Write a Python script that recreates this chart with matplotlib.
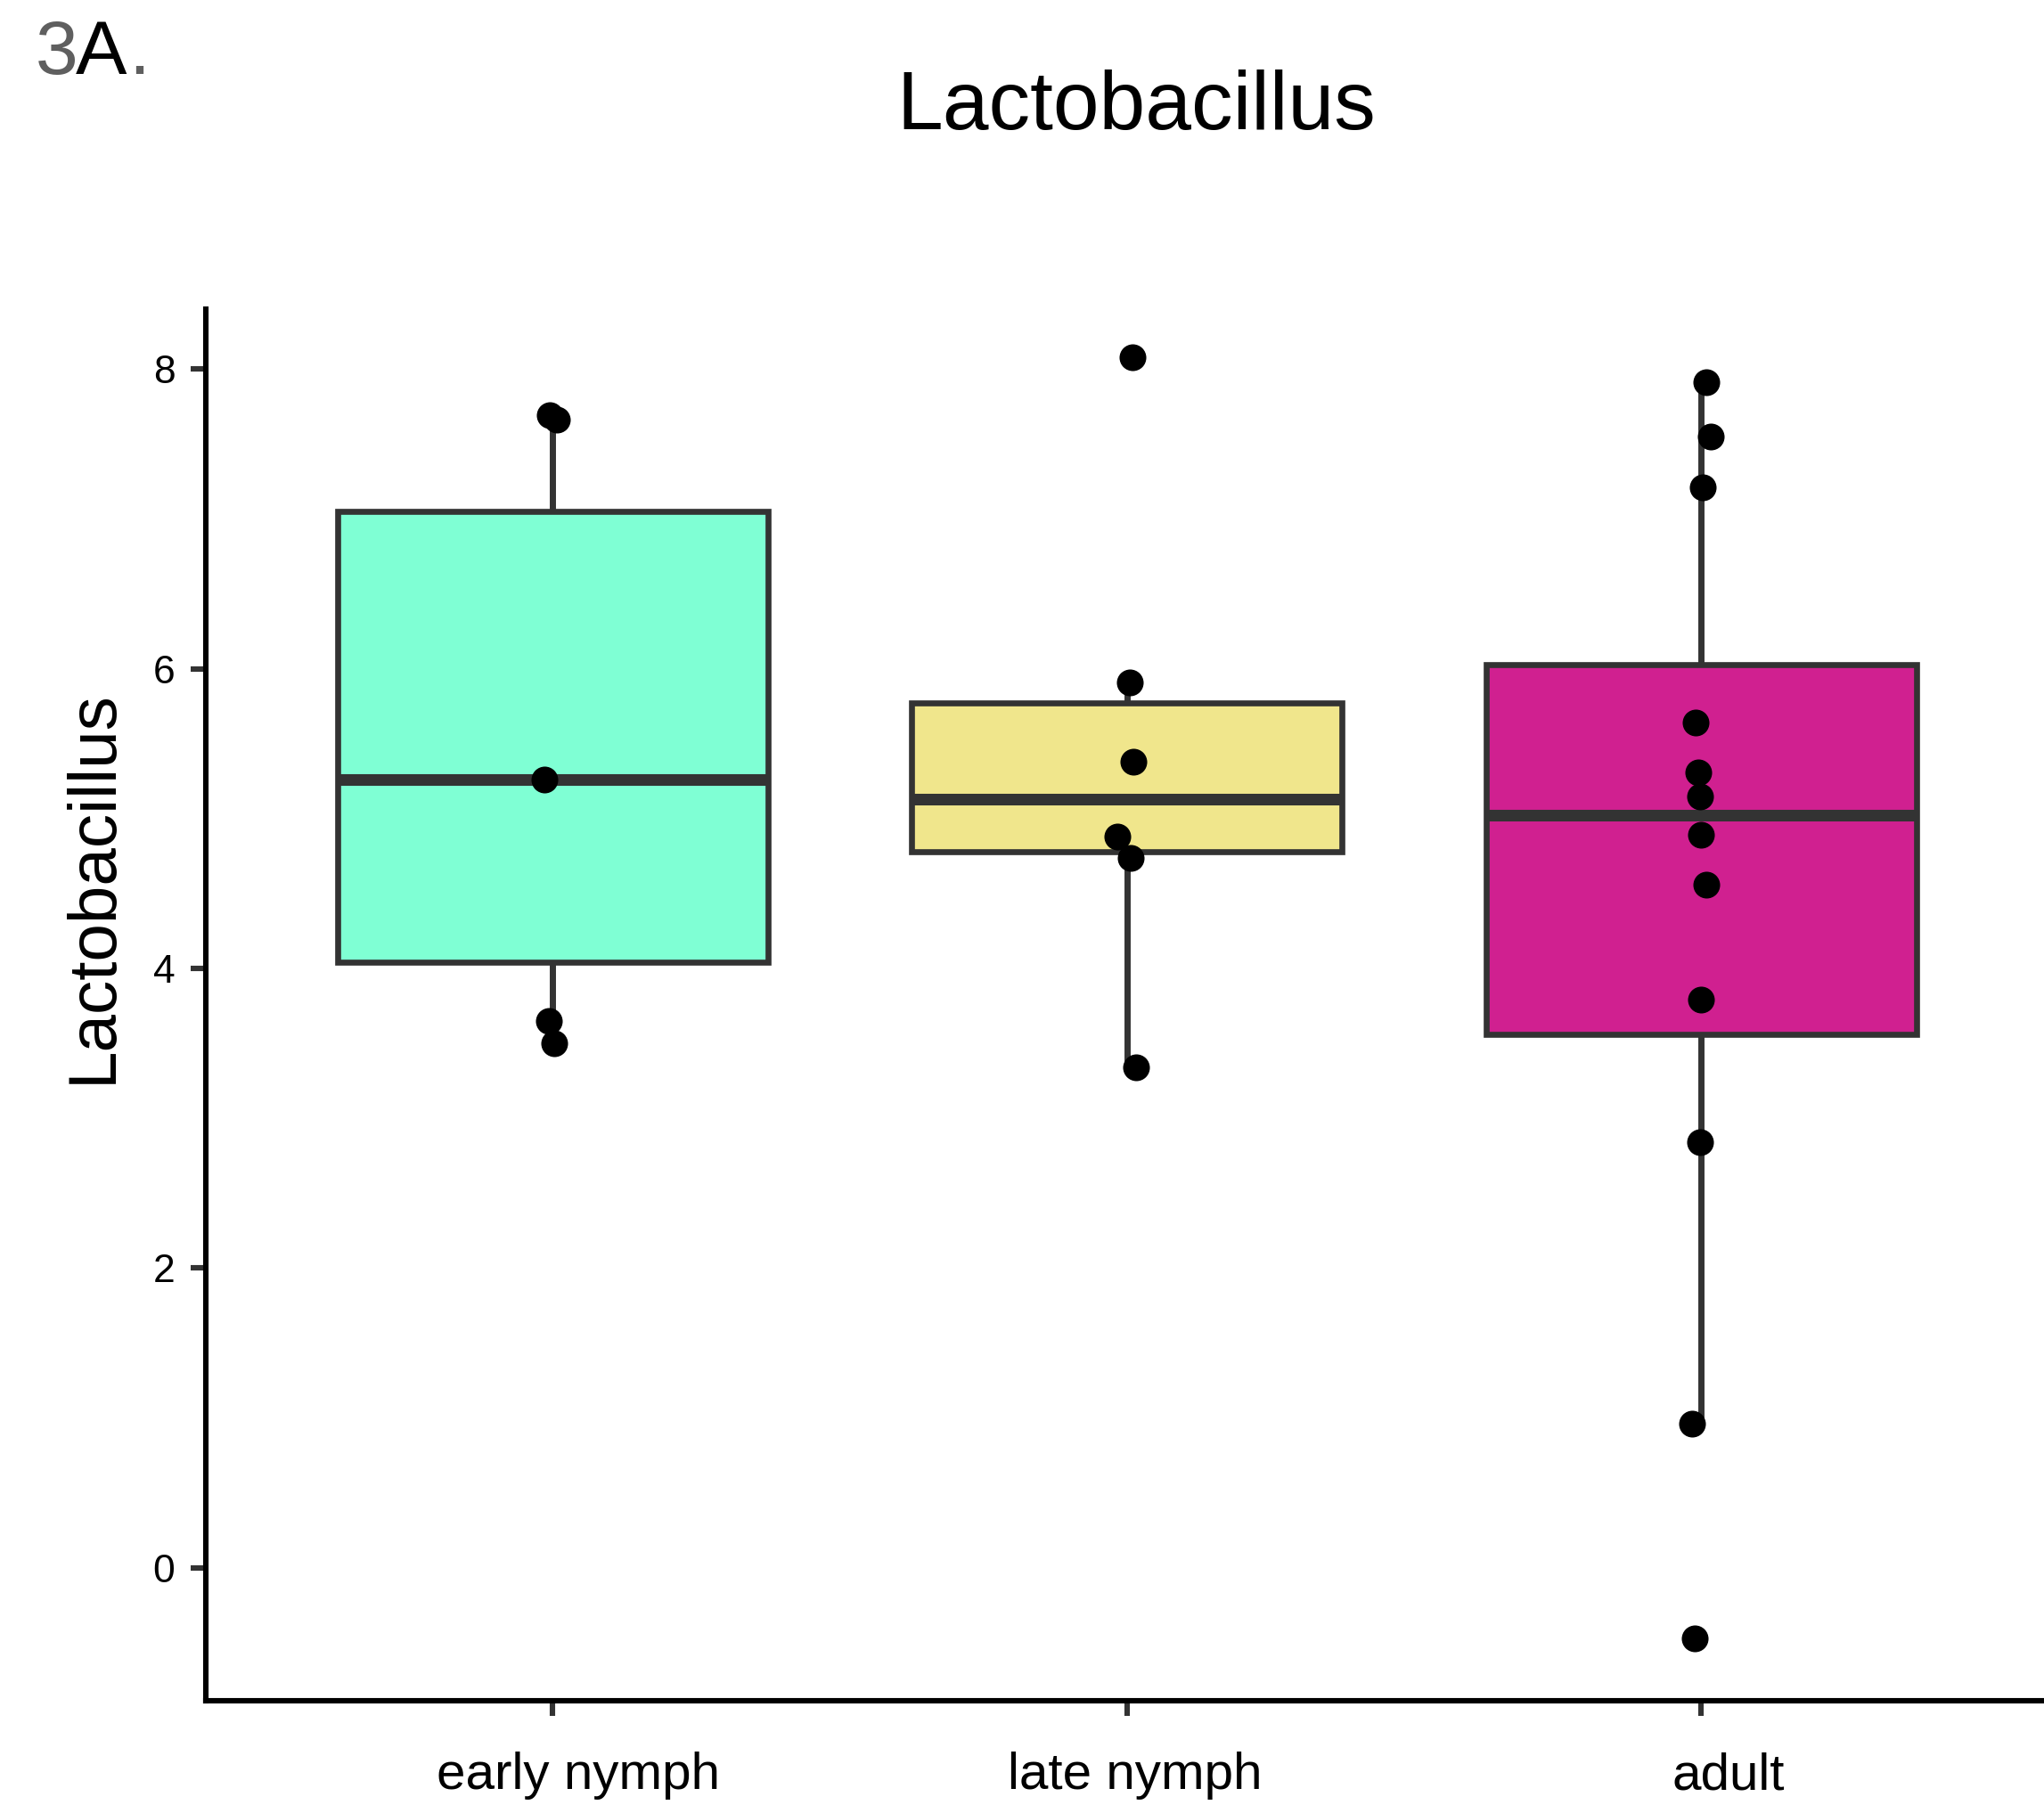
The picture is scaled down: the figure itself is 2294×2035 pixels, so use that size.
import matplotlib
matplotlib.use("Agg")
import matplotlib.pyplot as plt

plt.rcParams['font.family'] = ['Liberation Sans', 'DejaVu Sans']

# ---- data ----
groups = ['early nymph', 'late nymph', 'adult']
box_colors = ['#7FFFD4', '#F0E68C', '#D02090']

q1 = [4.04, 4.78, 3.56]
med = [5.26, 5.13, 5.02]
q3 = [7.05, 5.77, 6.03]
whis_lo = [3.50, 3.34, 0.97]
whis_hi = [7.66, 5.91, 7.91]

early_vals = [7.69, 7.66, 5.26, 3.65, 3.50]
late_vals = [8.08, 5.91, 5.38, 4.88, 4.74, 3.34]
adult_vals = [7.91, 7.55, 7.21, 5.64, 5.31, 5.15, 4.89, 4.56, 3.79, 2.84, 0.96, -0.47]

# horizontal jitter of each point (category units)
early_jit = [-0.005, 0.007, -0.014, -0.007, 0.002]
late_jit = [0.009, 0.005, 0.011, -0.016, 0.007, 0.016]
adult_jit = [0.009, 0.016, 0.002, -0.009, -0.005, -0.002, 0.0, 0.009, 0.0, -0.002, -0.016, -0.011]

yticks = [0, 2, 4, 6, 8]
label_shift = [0.045, 0.014, 0.048]

# ---- figure ----
fig = plt.figure(figsize=(2294 / 200, 2035 / 200), dpi=200)
ax = fig.add_axes([0.1007, 0.0619, 0.8993, 0.7676])

stats = []
for i in range(len(groups)):
    stats.append(dict(med=med[i], q1=q1[i], q3=q3[i],
                      whislo=whis_lo[i], whishi=whis_hi[i], label=groups[i]))

bp = ax.bxp(stats, positions=[0, 1, 2], widths=0.75, patch_artist=True,
            showfliers=False, showcaps=False,
            boxprops=dict(edgecolor='#333333', linewidth=2.4),
            whiskerprops=dict(color='#333333', linewidth=2.5, solid_capstyle='butt'),
            medianprops=dict(color='#333333', linewidth=4.7, solid_capstyle='butt'))
for patch, c in zip(bp['boxes'], box_colors):
    patch.set_facecolor(c)

for i, (vals, jit) in enumerate([(early_vals, early_jit),
                                 (late_vals, late_jit),
                                 (adult_vals, adult_jit)]):
    xs = [i + j for j in jit]
    ax.scatter(xs, vals, s=117, color='black', linewidths=0, zorder=5)

ax.set_xlim(-0.604, 2.597)
ax.set_ylim(-0.887, 8.4)

for s in ['top', 'right']:
    ax.spines[s].set_visible(False)
for s in ['left', 'bottom']:
    ax.spines[s].set_linewidth(2.2)
    ax.spines[s].set_color('black')

ax.set_yticks(yticks)
ax.set_yticklabels([str(t) for t in yticks], fontsize=16)
ax.set_xticks([0, 1, 2])
ax.set_xticklabels([])
ax.tick_params(axis='both', color='#333333', width=2.2, length=6)
ax.tick_params(axis='y', pad=6.5)

for i, g in enumerate(groups):
    ax.text(i + label_shift[i], -0.0538, g, transform=ax.get_xaxis_transform(),
            ha='center', va='center', fontsize=21)

ax.set_ylabel('Lactobacillus', fontsize=27.5)
ax.yaxis.set_label_coords(-0.0437, 0.585)

fig.text(0.556, 0.9290, 'Lactobacillus', ha='center', va='baseline', fontsize=33.5)

fig.text(40 / 2294, 0.9592, '3', ha='left', va='baseline', fontsize=31, color='#5F5F5F')
fig.text(85 / 2294, 0.9592, 'A', ha='left', va='baseline', fontsize=31, color='black')
fig.text(144 / 2294, 0.9592, '.', ha='left', va='baseline', fontsize=31, color='#5F5F5F')

fig.savefig('out.png', dpi=200)
